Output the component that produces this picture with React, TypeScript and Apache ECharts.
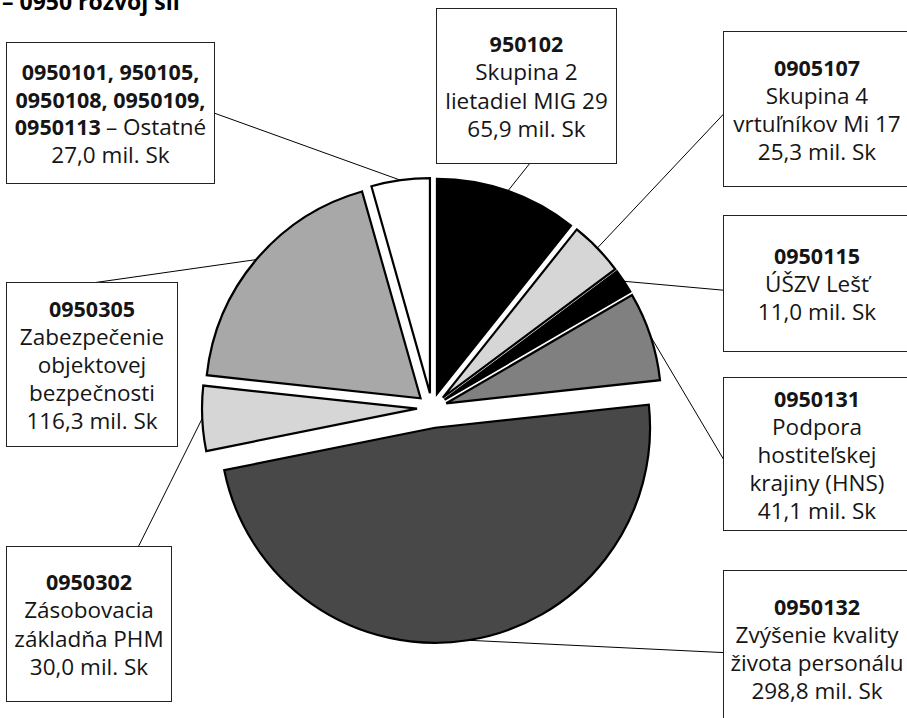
import React, { useEffect, useRef } from 'react';
import * as echarts from 'echarts';

// ---- data ----
const titleText = '– 0950 rozvoj síl';
const codeLines: string[][] = [
  ['950102'],
  ['0905107'],
  ['0950115'],
  ['0950131'],
  ['0950132'],
  ['0950302'],
  ['0950305'],
  ['0950101, 950105,', '0950108, 0950109,', '0950113'],
];
const descLines: string[][] = [
  ['Skupina 2', 'lietadiel MIG 29'],
  ['Skupina 4', 'vrtuľníkov Mi 17'],
  ['ÚŠZV Lešť'],
  ['Podpora', 'hostiteľskej', 'krajiny (HNS)'],
  ['Zvýšenie kvality', 'života personálu'],
  ['Zásobovacia', 'základňa PHM'],
  ['Zabezpečenie', 'objektovej', 'bezpečnosti'],
  ['– Ostatné'],
];
const inlineDesc = [false, false, false, false, false, false, false, true];
const values = [65.9, 25.3, 11.0, 41.1, 298.8, 30.0, 116.3, 27.0];
const unit = 'mil. Sk';
const colors = ['#000000', '#d6d6d6', '#000000', '#808080', '#484848', '#d6d6d6', '#a8a8a8', '#ffffff'];

// ---- layout ----
const PIE_CENTER = [432, 408];
const PIE_RADIUS = 215;
const EXPLODE = [15, 15, 15, 15, 20, 15, 15, 15];
const BOXES = [
  { left: 437, top: 9, width: 179, height: 154, attach: [0.52, 1], lh: 28.5 },
  { left: 724, top: 32, width: 186, height: 154, attach: [0, 0.53], lh: 28 },
  { left: 724, top: 216, width: 186, height: 135, attach: [0, 0.55], lh: 28 },
  { left: 724, top: 378, width: 186, height: 152, attach: [0, 0.54], lh: 28 },
  { left: 724, top: 571, width: 186, height: 154, attach: [0, 0.53], lh: 28 },
  { left: 7, top: 547, width: 164, height: 154, attach: [0.8, 0], lh: 28.3 },
  { left: 7, top: 283, width: 170, height: 163, attach: [0.5, 0], lh: 28 },
  { left: 7, top: 43, width: 207, height: 140, attach: [1, 0.5], lh: 27.5 },
];
const FONT = '"Open Sans", "Noto Sans", sans-serif';
const TEXT_COLOR = '#151515';

function fmt(v: number) {
  return v.toFixed(1).replace('.', ',') + ' ' + unit;
}

function labelText(i: number) {
  const lines: string[] = [];
  const codes = codeLines[i];
  const desc = descLines[i];
  codes.forEach((c, k) => {
    let line = '{b|' + c + '}';
    if (inlineDesc[i] && k === codes.length - 1) line += '{s| }{n|' + desc.join(' ') + '}';
    lines.push(line);
  });
  if (!inlineDesc[i]) desc.forEach((d) => lines.push('{n|' + d + '}'));
  lines.push('{n|' + fmt(values[i]) + '}');
  return lines;
}

function buildOption() {
  const total = values.reduce((a, b) => a + b, 0);
  let cum = 0;
  const mids = values.map((v) => {
    const m = ((cum + v / 2) / total) * Math.PI * 2;
    cum += v;
    return m;
  });

  const series = values.map((_, i) => {
    const d = EXPLODE[i];
    const cx = PIE_CENTER[0] + d * Math.sin(mids[i]);
    const cy = PIE_CENTER[1] - d * Math.cos(mids[i]);
    const box = BOXES[i];
    const lines = labelText(i);
    const pad = Math.max(0, (box.height - lines.length * box.lh) / 2);
    return {
      type: 'pie',
      radius: PIE_RADIUS,
      center: [cx, cy],
      startAngle: 90,
      clockwise: true,
      avoidLabelOverlap: false,
      silent: true,
      z: i === 4 ? 1 : 2,
      label: {
        show: false,
        position: 'outside',
        overflow: 'none',
        color: TEXT_COLOR,
        fontFamily: FONT,
      },
      labelLine: {
        show: false,
        length: 10,
        length2: 10,
        lineStyle: { color: '#000', width: 1 },
      },
      data: values.map((v, j) => {
        const own = j === i;
        return {
          value: v,
          name: codeLines[j].join(' '),
          itemStyle: own
            ? { color: colors[j], borderColor: '#000', borderWidth: 2.2, borderJoin: 'miter' }
            : { color: 'rgba(0,0,0,0)', borderWidth: 0 },
          label: own
            ? {
                show: true,
                formatter: lines.join('\n'),
                width: box.width,
                padding: [pad, 0, pad, 0],
                backgroundColor: '#ffffff',
                borderColor: '#222',
                borderWidth: 1,
                overflow: 'none',
                rich: {
                  b: {
                    fontFamily: FONT,
                    fontWeight: 'bold',
                    fontSize: 21.5,
                    lineHeight: box.lh,
                    color: TEXT_COLOR,
                    align: 'center',
                  },
                  s: {
                    fontFamily: FONT,
                    fontSize: 22.5,
                    lineHeight: box.lh,
                    width: 5,
                    align: 'center',
                  },
                  n: {
                    fontFamily: FONT,
                    fontSize: 22.5,
                    lineHeight: box.lh,
                    color: TEXT_COLOR,
                    align: 'center',
                  },
                },
              }
            : { show: false },
          labelLine: { show: own },
        };
      }),
      labelLayout: (p: any) => {
        if (p.dataIndex !== i) return {};
        const ax = box.left + box.attach[0] * box.width;
        const ay = box.top + box.attach[1] * box.height;
        let start: number[];
        if (p.labelLinePoints && p.labelLinePoints[0]) {
          start = p.labelLinePoints[0];
        } else {
          start = [cx + PIE_RADIUS * Math.sin(mids[i]), cy - PIE_RADIUS * Math.cos(mids[i])];
        }
        return {
          x: box.left,
          y: box.top,
          align: 'left',
          verticalAlign: 'top',
          labelLinePoints: [start, [(start[0] + ax) / 2, (start[1] + ay) / 2], [ax, ay]],
        };
      },
    };
  });

  return {
    animation: false,
    backgroundColor: '#ffffff',
    graphic: [
      {
        type: 'text',
        x: 2,
        y: 1,
        style: {
          text: titleText,
          font: 'bold 23px "Open Sans", "Noto Sans", sans-serif',
          fill: '#000',
          verticalAlign: 'middle',
          align: 'left',
        },
      },
    ],
    series,
  };
}

export default function App() {
  const ref = useRef<HTMLDivElement>(null);
  useEffect(() => {
    if (!ref.current) return;
    const chart = echarts.init(ref.current, null, { renderer: 'svg' });
    chart.setOption(buildOption() as any);
    return () => chart.dispose();
  }, []);
  return (
    <div
      ref={ref}
      style={{ position: 'fixed', left: 0, top: 0, width: 907, height: 718, background: '#fff' }}
    />
  );
}
